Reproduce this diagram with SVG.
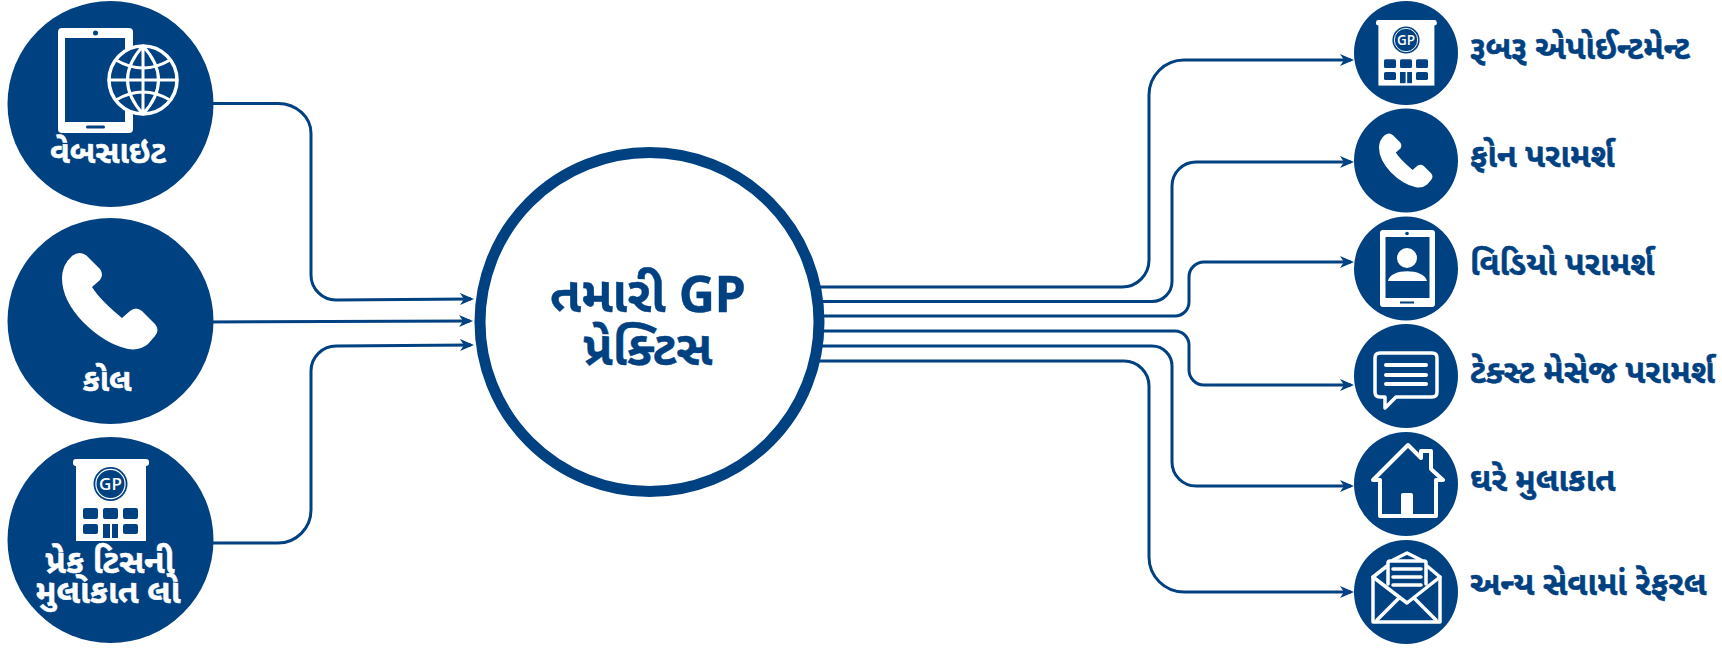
<svg xmlns="http://www.w3.org/2000/svg" xmlns:xlink="http://www.w3.org/1999/xlink" width="1722" height="648" viewBox="0 0 1722 648">
<style>
.n{fill:#004182}
.c{fill:none;stroke:#004182;stroke-width:3}
.w{fill:#fff}
.ws{fill:none;stroke:#fff;stroke-width:4;stroke-linecap:round;stroke-linejoin:round}
.t{font-family:"Noto Sans","Noto Sans Gujarati","Liberation Sans",sans-serif;font-weight:700}
.lb{font-size:32.500px;fill:#004182;stroke:#004182;stroke-width:.5}
.lw{font-size:32px;fill:#fff;text-anchor:middle;stroke:#fff;stroke-width:.5}
.ce{fill:#004182;text-anchor:middle;stroke:#004182;stroke-width:.4}
.gp{font-family:"Open Sans","Liberation Sans",sans-serif;font-weight:600;fill:#fff;text-anchor:middle}
</style>
<defs>
<marker id="a" markerUnits="userSpaceOnUse" markerWidth="15" markerHeight="13" refX="11" refY="6" orient="auto"><path d="M0 0L14 6L0 12L4 6Z" fill="#004182"/></marker>
<path id="phone" d="M72 256Q80 250 87 256L100 269Q104 275 100 280L92 287Q100 300 122 318L130 311Q136 306 142 311L155 324Q160 330 155 336L148 344Q140 351 128 349Q105 344 83 322Q62 300 62 278Q62 265 72 256Z" fill="#fff"/>
<g id="bld">
<rect x="73" y="459" width="76" height="7" rx="3" fill="#fff"/>
<rect x="76" y="462" width="70" height="79" fill="#fff"/>
<circle cx="110.500" cy="484" r="17" class="n"/>
<circle cx="110.500" cy="484" r="14.600" fill="none" stroke="#fff" stroke-width="1.200"/>
<g class="n">
<rect x="83" y="508" width="15" height="11" rx="2"/><rect x="103" y="508" width="15" height="11" rx="2"/><rect x="123" y="508" width="15" height="11" rx="2"/>
<rect x="83" y="524" width="15" height="10" rx="2"/><rect x="123" y="524" width="15" height="10" rx="2"/>
<rect x="103" y="524" width="7" height="14"/><rect x="112" y="524" width="6" height="14"/>
</g>
</g>
</defs>
<g id="connectors">
<path class="c" marker-end="url(#a)" d="M205 103.500H278A33 30 0 0 1 311 134V275A25 25 0 0 0 336 300L471 299"/>
<path class="c" marker-end="url(#a)" d="M205 322L470 321"/>
<path class="c" marker-end="url(#a)" d="M205 543H278A33 33 0 0 0 311 510V371A25 25 0 0 1 336 346L471 345"/>
<path class="c" marker-end="url(#a)" d="M810 287H1122A27 27 0 0 0 1149 260V95A35 35 0 0 1 1184 60H1351"/>
<path class="c" marker-end="url(#a)" d="M810 301.500H1152A20 20 0 0 0 1172 281.500V186A24 24 0 0 1 1196 162H1351"/>
<path class="c" marker-end="url(#a)" d="M810 316H1175A14 14 0 0 0 1189 302V277A15 15 0 0 1 1204 262H1351"/>
<path class="c" marker-end="url(#a)" d="M810 331H1175A14 14 0 0 1 1189 345V370A15 15 0 0 0 1204 385H1351"/>
<path class="c" marker-end="url(#a)" d="M810 346H1152A20 20 0 0 1 1172 366V462A24 24 0 0 0 1196 486H1351"/>
<path class="c" marker-end="url(#a)" d="M810 361H1124A25 25 0 0 1 1149 386V557A35 35 0 0 0 1184 592H1351"/>
</g>
<g id="center">
<circle cx="649.500" cy="322" r="169.500" fill="#fff" stroke="#004182" stroke-width="11"/>
<text class="t ce" x="648" y="312" font-size="50">તમારી GP</text>
<text class="t ce" x="648" y="365" font-size="48">પ્રેક્ટિસ</text>
</g>
<g id="website">
<circle class="n" cx="110.500" cy="104" r="103"/>
<rect class="w" x="58" y="28" width="75" height="105" rx="4"/>
<rect class="n" x="65" y="38" width="60" height="84"/>
<circle class="n" cx="95.500" cy="33" r="2.500"/>
<rect class="n" x="86" y="125.500" width="19" height="3" rx="1.500"/>
<circle cx="143" cy="80" r="34" fill="#004182" stroke="#fff" stroke-width="3.500"/>
<path class="ws" style="stroke-width:3" d="M143 46V114M109 80H177M143 46Q112 80 143 114M143 46Q174 80 143 114M116 60Q143 76 170 60M116 100Q143 84 170 100"/>
<text class="t lw" x="108" y="163">વેબસાઇટ</text>
</g>
<g id="call">
<circle class="n" cx="110.500" cy="321" r="103"/>
<use xlink:href="#phone" href="#phone"/>
<text class="t lw" x="107" y="391">કોલ</text>
</g>
<g id="visit">
<circle class="n" cx="110.500" cy="540" r="103"/>
<use xlink:href="#bld" href="#bld"/>
<text class="gp" x="110.500" y="490" font-size="17">GP</text>
<text class="t lw" x="110" y="573" style="font-size:33.500px">પ્રેક્ ટિસની</text>
<text class="t lw" x="108" y="603" style="font-size:33.500px">મુલાકાત લો</text>
</g>
<g id="r1">
<circle class="n" cx="1406" cy="53" r="52"/>
<use xlink:href="#bld" href="#bld" transform="translate(1317.600 -347.200) scale(.8)"/>
<text class="gp" x="1406" y="45" font-size="13.500">GP</text>
<text class="t lb" x="1470" y="59">રૂબરૂ એપોઈન્ટમેન્ટ</text>
</g>
<g id="r2">
<circle class="n" cx="1406" cy="160.500" r="52"/>
<use xlink:href="#phone" href="#phone" transform="translate(1344.280 -8.120) scale(.56)"/>
<text class="t lb" x="1470" y="167">ફોન પરામર્શ</text>
</g>
<g id="r3">
<circle class="n" cx="1406" cy="268.500" r="52"/>
<rect class="w" x="1380" y="230" width="55" height="77" rx="3"/>
<rect class="n" x="1385.500" y="237" width="44" height="61"/>
<circle class="n" cx="1407" cy="233.500" r="1.800"/>
<rect class="n" x="1400" y="301.500" width="14" height="2"/>
<circle class="w" cx="1407" cy="258" r="10"/>
<path class="w" d="M1388 281C1390 268 1424 268 1427 281Z"/>
<text class="t lb" x="1470" y="275">વિડિયો પરામર્શ</text>
</g>
<g id="r4">
<circle class="n" cx="1406" cy="376" r="52"/>
<path class="ws" style="stroke-width:3.500" d="M1380 353H1432Q1437 353 1437 358V392Q1437 397 1432 397H1396L1385 408V397H1380Q1375 397 1375 392V358Q1375 353 1380 353Z"/>
<path class="ws" d="M1386 365H1426M1386 375H1426M1386 384H1426"/>
<text class="t lb" x="1470" y="383">ટેક્સ્ટ મેસેજ પરામર્શ</text>
</g>
<g id="r5">
<circle class="n" cx="1406" cy="484" r="52"/>
<path class="ws" d="M1380 480H1373L1408 445L1421 458V451H1431V469L1443 480H1436V516H1380Z"/>
<path class="w" d="M1401 518V495Q1401 493 1403 493H1411Q1413 493 1413 495V518Z"/>
<text class="t lb" x="1470" y="491">ઘરે મુલાકાત</text>
</g>
<g id="r6">
<circle class="n" cx="1406" cy="592" r="52"/>
<path class="ws" style="stroke-width:3.500" d="M1387 566L1373 577V622H1440V577L1427 566M1393 560L1407 553L1421 560"/>
<path class="ws" style="stroke-width:3.500" d="M1373 577L1407 603L1440 577M1377 620L1399 598M1436 620L1414 598"/>
<path class="ws" style="stroke-width:3.500" d="M1388 584V563Q1388 561 1390 561H1424Q1426 561 1426 563V584"/>
<path class="ws" style="stroke-width:3.500" d="M1393 569H1421M1393 577H1421M1393 585H1421"/>
<text class="t lb" x="1470" y="595">અન્ય સેવામાં રેફરલ</text>
</g>
</svg>
